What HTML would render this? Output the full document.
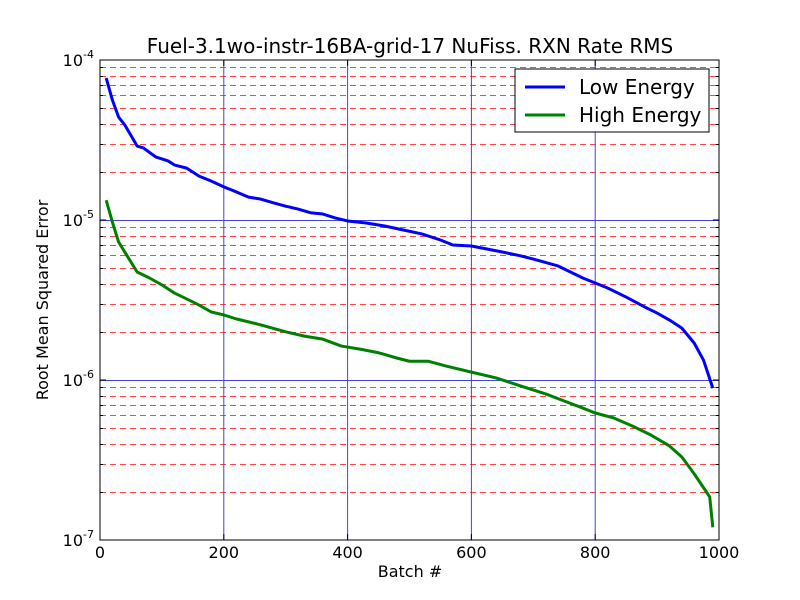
<!DOCTYPE html>
<html><head><meta charset="utf-8"><style>body{margin:0;background:#fff}svg{display:block;font-family:"DejaVu Sans","Liberation Sans",sans-serif}</style></head>
<body>
<svg id="chart" width="800" height="600" xmlns="http://www.w3.org/2000/svg">
<rect width="800" height="600" fill="#fff"/>
<g id="hgrid"></g>
<g id="grid"></g>
<g id="series"></g>
<rect x="100" y="60" width="619" height="480" fill="none" stroke="#000" stroke-width="1"/>
<g id="ticks"></g>
<text x="410" y="53" font-size="20" text-anchor="middle">Fuel-3.1wo-instr-16BA-grid-17 NuFiss. RXN Rate RMS</text>
<text x="410" y="577" font-size="16" text-anchor="middle">Batch #</text>
<text transform="translate(48,300) rotate(-90)" font-size="16" text-anchor="middle">Root Mean Squared Error</text>
<g>
<rect x="515" y="69" width="194" height="63" fill="#fff" stroke="#000"/>
<line x1="525" y1="87" x2="565" y2="87" stroke="#0000ff" stroke-width="3"/>
<text x="579" y="94" font-size="20">Low Energy</text>
<line x1="525" y1="115" x2="565" y2="115" stroke="#008000" stroke-width="3"/>
<text x="579" y="122" font-size="20">High Energy</text>
</g>
</svg>
<script>
const batchLow=[10,20,30,40,60,70,90,110,120,140,160,180,200,220,240,260,280,300,320,340,360,380,400,430,460,490,520,550,570,600,650,680,700,740,780,800,820,850,880,900,920,940,960,975,990];
const lowEnergy=[7.72e-5,5.62e-5,4.40e-5,3.93e-5,2.90e-5,2.82e-5,2.48e-5,2.34e-5,2.21e-5,2.11e-5,1.88e-5,1.75e-5,1.61e-5,1.50e-5,1.39e-5,1.35e-5,1.28e-5,1.22e-5,1.17e-5,1.11e-5,1.09e-5,1.03e-5,9.86e-6,9.58e-6,9.17e-6,8.66e-6,8.18e-6,7.50e-6,6.98e-6,6.88e-6,6.31e-6,5.96e-6,5.70e-6,5.16e-6,4.34e-6,4.04e-6,3.76e-6,3.30e-6,2.86e-6,2.62e-6,2.37e-6,2.11e-6,1.70e-6,1.33e-6,8.9e-7];
const batchHigh=[10,20,30,40,60,80,100,120,140,160,180,200,220,260,300,330,360,390,420,450,480,500,530,560,600,640,680,720,750,780,800,830,860,890,920,940,960,985,990];
const highEnergy=[1.33e-5,9.7e-6,7.29e-6,6.31e-6,4.73e-6,4.34e-6,3.93e-6,3.50e-6,3.21e-6,2.94e-6,2.66e-6,2.55e-6,2.41e-6,2.21e-6,2.00e-6,1.88e-6,1.80e-6,1.63e-6,1.56e-6,1.48e-6,1.37e-6,1.31e-6,1.31e-6,1.22e-6,1.12e-6,1.03e-6,9.17e-7,8.18e-7,7.39e-7,6.68e-7,6.22e-7,5.79e-7,5.16e-7,4.53e-7,3.87e-7,3.30e-7,2.59e-7,1.86e-7,1.2e-7];
const xTicks=[0,200,400,600,800,1000];
const yExps=[-4,-5,-6,-7];
const NS='http://www.w3.org/2000/svg';
const X=b=>100+b/1000*619;
const Y=v=>60+(-4-Math.log10(v))*160;
function mk(tag,attrs,parent){const e=document.createElementNS(NS,tag);for(const k in attrs)e.setAttribute(k,String(attrs[k]));parent.appendChild(e);return e;}
const hgrid=document.getElementById('hgrid'),grid=document.getElementById('grid'),ticks=document.getElementById('ticks'),series=document.getElementById('series');
for(let e=-5;e>=-7;e--){
  for(let m=1;m<=9;m++){
    const v=m*Math.pow(10,e);
    const yy=Math.round(Y(v))+0.5;
    if(yy<60||yy>540)continue;
    if(m===1){
      if(e===-7)continue;
      const l=mk('line',{x1:100,y1:yy,x2:719,y2:yy,stroke:'#4444dd','stroke-width':1},hgrid);
      
      
    }else{
      const l=mk('line',{x1:100,y1:yy,x2:719,y2:yy,stroke:'#ff4444','stroke-width':1,'stroke-dasharray':'6,4'},hgrid);
      
      
      mk('line',{x1:100,y1:yy,x2:103,y2:yy,stroke:'#000'},ticks);
      mk('line',{x1:719,y1:yy,x2:716,y2:yy,stroke:'#000'},ticks);
    }
  }
}
xTicks.forEach(t=>{const x=X(t);
 if(t>0&&t<1000){const l=mk('line',{x1:x,y1:60,x2:x,y2:540,stroke:'#4444dd','stroke-width':1},grid);
 
 }
 mk('line',{x1:x,y1:540,x2:x,y2:534,stroke:'#000'},ticks);mk('line',{x1:x,y1:60,x2:x,y2:66,stroke:'#000'},ticks);
 const tx=mk('text',{x:x,y:558,'font-size':16,'text-anchor':'middle'},ticks);tx.textContent=t;
 
 });
yExps.forEach(e=>{const y=Y(Math.pow(10,e));
 mk('line',{x1:100,y1:y,x2:106,y2:y,stroke:'#000'},ticks);mk('line',{x1:719,y1:y,x2:713,y2:y,stroke:'#000'},ticks);
 const tx=mk('text',{x:94,y:y+6,'font-size':16,'text-anchor':'end'},ticks);
 
 
 tx.textContent='10';const s=mk('tspan',{dy:-8,'font-size':11},tx);s.textContent=String(e);});
function line(xs,vs,color,name){const p=mk('polyline',{points:xs.map((b,i)=>X(b)+','+Y(vs[i])).join(' '),fill:'none',stroke:color,'stroke-width':3,'stroke-linejoin':'round'},series);
 
 }
line(batchLow,lowEnergy,'#0000ff','low-energy-line');
line(batchHigh,highEnergy,'#008000','high-energy-line');
</script>
</body></html>
